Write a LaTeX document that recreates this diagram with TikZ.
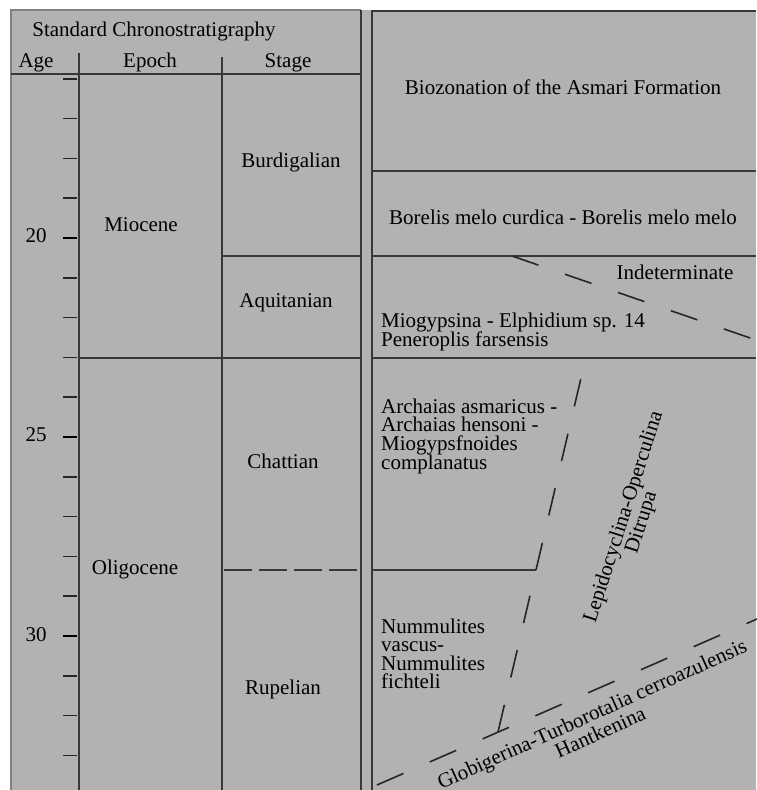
\documentclass[tikz,border=0pt]{standalone}
\usepackage{fontspec}
\setmainfont{Liberation Serif}
\definecolor{bg}{gray}{0.70}
\definecolor{ln}{gray}{0.22}
\definecolor{edge}{gray}{0.50}
\begin{document}
\begin{tikzpicture}[x=1pt,y=-1pt,
  lbl/.style={font=\fontsize{21}{18.7}\selectfont, inner sep=0pt, text=black},
  rule/.style={draw=ln, line width=1.6pt},
  faint/.style={draw=edge, line width=1.4pt},
  dashrule/.style={draw=black!85, line width=1.6pt, dash pattern=on 28pt off 28pt},
  shortdash/.style={draw=ln, line width=1.6pt, dash pattern=on 28pt off 7pt},
  tickmark/.style={draw=black!85, line width=1.6pt},
  bigtick/.style={draw=black, line width=2.8pt}]
\useasboundingbox (0,0) rectangle (756,790);
\fill[bg] (11,10) rectangle (756,790);

% ---------- left panel frame ----------
\coordinate (lTL) at (11,10);
\coordinate (lBL) at (11,790);
\coordinate (lTR) at (361,10);
\coordinate (lBR) at (361,790);
\draw[faint] (lBL) -- (lTL) -- (lTR);
\draw[rule] (lTR) -- (lBR);

% header
\node[lbl, anchor=base] (hdr) at (154,36) {Standard Chronostratigraphy};
\node[lbl, anchor=base] (age) at (36,67) {Age};
\node[lbl, anchor=base] (epoch) at (150,67) {Epoch};
\node[lbl, anchor=base] (stage) at (288,67) {Stage};
\coordinate (hL) at (11,74);
\coordinate (hR) at (361,74);
\draw[rule] (hL) -- (hR);

% column separators
\coordinate (c1t) at (79,53);
\coordinate (c1b) at (79,790);
\coordinate (c2t) at (222,57);
\coordinate (c2b) at (222,790);
\draw[rule] (c1t) -- (c1b);
\draw[rule] (c2t) -- (c2b);

% ticks
\foreach \a in {16,...,33}{
  \pgfmathsetmacro{\yy}{238+(\a-20)*39.8}
  \draw[tickmark] (63,\yy) -- (77,\yy);
}
\foreach \a in {20,25,30}{
  \pgfmathsetmacro{\yy}{238+(\a-20)*39.8}
  \draw[bigtick] (63,\yy) -- (77,\yy);
}
\node[lbl, anchor=base] (a20) at (36,242) {20};
\node[lbl, anchor=base] (a25) at (36,441) {25};
\node[lbl, anchor=base] (a30) at (36,641) {30};

% epochs
\node[lbl, anchor=base] (mioc) at (141,231) {Miocene};
\node[lbl, anchor=base] (olig) at (135,574) {Oligocene};
\coordinate (eL) at (79,358);
\coordinate (eR) at (361,358);
\draw[rule] (eL) -- (eR);

% stages
\node[lbl, anchor=base] (burd) at (291,167) {Burdigalian};
\node[lbl, anchor=base] (aqui) at (286,307) {Aquitanian};
\node[lbl, anchor=base] (chat) at (283,468) {Chattian};
\node[lbl, anchor=base] (rupe) at (283,694) {Rupelian};
\coordinate (s1L) at (222,256);
\coordinate (s1R) at (361,256);
\draw[rule] (s1L) -- (s1R);
\coordinate (s2L) at (224,570);
\coordinate (s2R) at (359,570);
\draw[shortdash] (s2L) -- (s2R);

% ---------- right panel ----------
\coordinate (rTL) at (372,11);
\coordinate (rTR) at (756,11);
\coordinate (rBL) at (372,790);
\draw[rule] (rBL) -- (rTL) -- (rTR);

\node[lbl, anchor=base] (bio) at (563,94) {Biozonation of the Asmari Formation};
\coordinate (r1L) at (372,171);
\coordinate (r1R) at (756,171);
\draw[rule] (r1L) -- (r1R);
\node[lbl, anchor=base] (bor) at (563,224) {Borelis melo curdica - Borelis melo melo};
\coordinate (r2L) at (372,256);
\coordinate (r2R) at (756,256);
\draw[rule] (r2L) -- (r2R);
\node[lbl, anchor=base] (ind) at (675,279) {Indeterminate};
\coordinate (i1) at (512,256);
\coordinate (i2) at (756,340);
\draw[dashrule] (i1) -- (i2);
\node[lbl, anchor=base west] (mio1) at (381,327) {Miogypsina - Elphidium sp. 14};
\node[lbl, anchor=base west] (mio2) at (381,346) {Peneroplis farsensis};
\coordinate (r3L) at (372,358);
\coordinate (r3R) at (756,358);
\draw[rule] (r3L) -- (r3R);

\node[lbl, anchor=base west] (ar1) at (381,413) {Archaias asmaricus -};
\node[lbl, anchor=base west] (ar2) at (381,431.7) {Archaias hensoni -};
\node[lbl, anchor=base west] (ar3) at (381,450.4) {Miogypsfnoides};
\node[lbl, anchor=base west] (ar4) at (381,469.1) {complanatus};

\coordinate (r4L) at (372,570);
\coordinate (k) at (536,570);
\draw[rule] (r4L) -- (k);
\coordinate (ktop) at (581,378);
\coordinate (kbot) at (498,732);
\draw[dashrule] (k) -- (ktop);
\draw[dashrule] (kbot) -- (k);

\node[lbl, anchor=base west] (nu1) at (381,633) {Nummulites};
\node[lbl, anchor=base west] (nu2) at (381,651.5) {vascus-};
\node[lbl, anchor=base west] (nu3) at (381,670) {Nummulites};
\node[lbl, anchor=base west] (nu4) at (381,688.5) {fichteli};

\node[lbl, rotate=72.3, align=center] (lep) at (633,520) {Lepidocyclina-Operculina\\Ditrupa};

\coordinate (g1) at (377,785);
\coordinate (g2) at (757,619);
\draw[dashrule, dash pattern=on 28.8pt off 28.8pt] (g1) -- (g2);
\node[lbl, rotate=24.3, align=center] (glo) at (596,723) {Globigerina-Turborotalia cerroazulensis\\Hantkenina};
\end{tikzpicture}
\end{document}
